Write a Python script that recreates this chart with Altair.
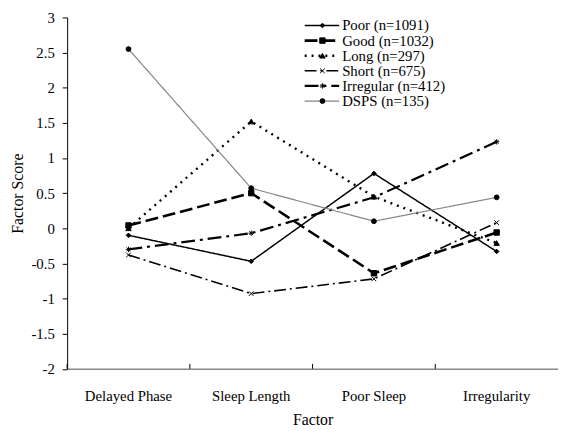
import altair as alt
import pandas as pd

factors = ["Delayed Phase", "Sleep Length", "Poor Sleep", "Irregularity"]
series = ["Poor (n=1091)", "Good (n=1032)", "Long (n=297)", "Short (n=675)",
          "Irregular (n=412)", "DSPS (n=135)"]
poor = [-0.10, -0.47, 0.78, -0.33]
good = [0.04, 0.50, -0.64, -0.06]
long_ = [0.00, 1.52, 0.45, -0.21]
short = [-0.38, -0.93, -0.72, 0.08]
irregular = [-0.30, -0.07, 0.44, 1.23]
dsps = [2.55, 0.57, 0.10, 0.44]
values = [poor, good, long_, short, irregular, dsps]
y_ticks = [-2, -1.5, -1, -0.5, 0, 0.5, 1, 1.5, 2, 2.5, 3]

rows = []
for s, vals in zip(series, values):
    for f, v in zip(factors, vals):
        rows.append({"series": s, "factor": f, "score": v})
df = pd.DataFrame(rows)
leg = pd.DataFrame({"series": series})
fac = pd.DataFrame({"factor": factors})

W, H = 498, 356.5
FONT = "Liberation Serif"

dash_scale = alt.Scale(domain=series, range=[[1, 0], [13, 5], [2, 5], [12, 4, 2, 4], [14, 5, 3, 5], [1, 0]])
color_scale = alt.Scale(domain=series, range=["black", "black", "black", "black", "black", "#858585"])
sw_scale = alt.Scale(type="ordinal", domain=series, range=[1.5, 2.6, 2.4, 1.6, 2.2, 1.2])
shape_scale = alt.Scale(domain=series, range=[
    "diamond", "square", "triangle-up",
    "M-1,-1L1,1M-1,1L1,-1",
    "M-1,0L1,0M0,-1L0,1M-0.7,-0.7L0.7,0.7M-0.7,0.7L0.7,-0.7",
    "circle"])
size_scale = alt.Scale(type="ordinal", domain=series, range=[22, 30, 30, 22, 30, 24])

xscale = alt.Scale(type="band", paddingInner=0, paddingOuter=0)
xaxis = alt.Axis(title="Factor", ticks=False, tickSize=0, labelPadding=20,
                 labelFont=FONT, labelFontSize=15, labelColor="black",
                 titleFont=FONT, titleFontSize=16, titleFontWeight="normal",
                 titleColor="black", titlePadding=8,
                 domainColor="#888888", domainWidth=1.5, labelAngle=0)
yscale = alt.Scale(domain=[-2, 3], nice=False, zero=False)
yaxis = alt.Axis(title="Factor Score", values=y_ticks, labelExpr="'' + datum.value",
                 grid=False, tickSize=5, tickColor="black", domainColor="black",
                 labelOverlap=False,
                 labelPadding=8, labelFont=FONT, labelFontSize=15, labelColor="black",
                 titleFont=FONT, titleFontSize=16, titleFontWeight="normal",
                 titleColor="black", titlePadding=6)
xenc = alt.X("factor:N", sort=factors, scale=xscale, axis=xaxis)
yenc = alt.Y("score:Q", scale=yscale, axis=yaxis)

lines = alt.Chart(df).mark_line().encode(
    x=xenc, y=yenc,
    color=alt.Color("series:N", scale=color_scale, legend=None),
    strokeDash=alt.StrokeDash("series:N", scale=dash_scale, legend=None),
    strokeWidth=alt.StrokeWidth("series:N", scale=sw_scale, legend=None),
    detail="series:N",
)
points = alt.Chart(df).mark_point(fill="black", stroke="black", strokeWidth=1, opacity=1).encode(
    x=xenc, y=yenc,
    shape=alt.Shape("series:N", scale=shape_scale, legend=None),
    size=alt.Size("series:N", scale=size_scale, legend=None),
)
xticks = alt.Chart(fac).mark_rule(color="black", strokeWidth=1).encode(
    x=alt.X("factor:N", sort=factors, scale=xscale, bandPosition=0, axis=xaxis),
    y=alt.value(H - 5), y2=alt.value(H),
)
main = alt.layer(lines, points, xticks)

leg_y = alt.Y("series:N", sort=series, scale=alt.Scale(type="point", domain=series, range=[0.5, 92.5]), axis=None)
leg_rules = alt.Chart(leg).mark_rule().encode(
    x=alt.value(241), x2=alt.value(276), y=leg_y,
    color=alt.Color("series:N", scale=color_scale, legend=None),
    strokeDash=alt.StrokeDash("series:N", scale=dash_scale, legend=None),
    strokeWidth=alt.StrokeWidth("series:N", scale=sw_scale, legend=None),
)
leg_pts = alt.Chart(leg).mark_point(fill="black", stroke="black", strokeWidth=1, opacity=1).encode(
    x=alt.value(259), y=leg_y,
    shape=alt.Shape("series:N", scale=shape_scale, legend=None),
    size=alt.Size("series:N", scale=size_scale, legend=None),
)
leg_text = alt.Chart(leg).mark_text(align="left", baseline="middle", font=FONT, fontSize=15,
                                    color="black").encode(
    x=alt.value(279), y=leg_y, text="series:N",
)
legend = alt.layer(leg_rules, leg_pts, leg_text)

chart = alt.layer(main, legend).resolve_scale(
    y="independent"
).properties(
    width=W, height=H,
    autosize=alt.AutoSizeParams(type="none"),
    padding={"left": 60, "top": 6.5, "right": 0, "bottom": 60},
).configure(
    background="white", font=FONT
).configure_view(stroke=None).configure_axis(
    labelFont=FONT, titleFont=FONT
).configure_text(font=FONT)

chart.save("out.html", embed_options={"renderer": "svg", "actions": False})
